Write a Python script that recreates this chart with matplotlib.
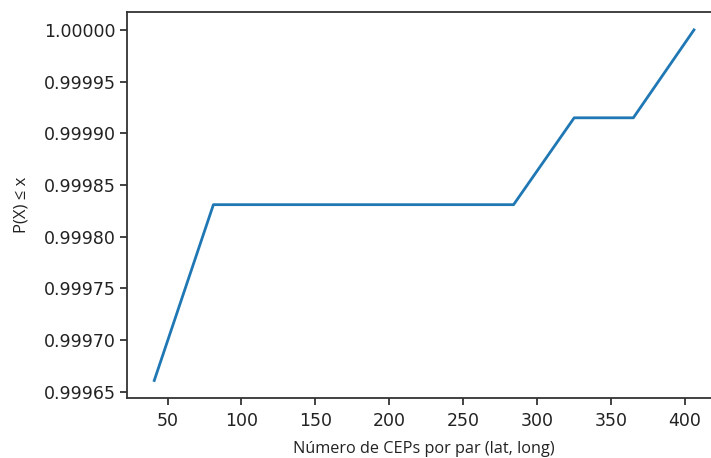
import matplotlib
matplotlib.use("Agg")
import matplotlib.pyplot as plt

plt.rcParams['font.family'] = ['DejaVu Sans']

# vertices of the cumulative curve
ceps_por_par = [41, 81, 284, 325, 365, 406]
prob_acum = [0.999661, 0.999831, 0.999831, 0.999915, 0.999915, 1.0]

fig = plt.figure(figsize=(7.11, 4.58), dpi=100)
ax = fig.add_axes([0.179, 0.131, 0.835, 0.842])

ax.plot(ceps_por_par, prob_acum, color='#1f77b4', linewidth=2)

ax.set_yticks([0.99965, 0.99970, 0.99975, 0.99980, 0.99985, 0.99990, 0.99995, 1.00000])
ax.yaxis.set_major_formatter(matplotlib.ticker.FormatStrFormatter('%.5f'))
ax.tick_params(labelsize=12.5, colors='#222222', width=1.2, length=5)
ax.tick_params(axis='x', pad=5)
for s in ax.spines.values():
    s.set_linewidth(1.3)
    s.set_color('#333333')
# the original image is cropped before the right spine
ax.spines['right'].set_visible(False)

ax.set_xlabel("Número de CEPs por par (lat, long)", fontsize=11.7, family='Open Sans',
              color='#222222', labelpad=8)
ax.set_ylabel("P(X) ≤ x", fontsize=12, family='Open Sans', color='#222222', labelpad=10)

fig.savefig("out.png", dpi=100)
